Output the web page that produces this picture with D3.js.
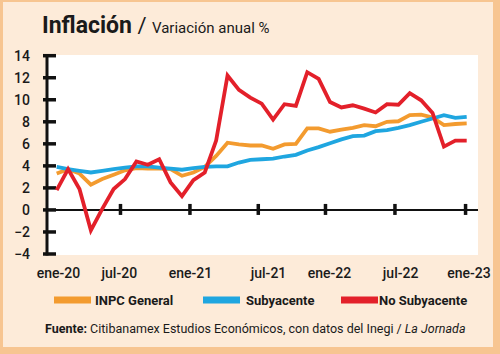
<!DOCTYPE html>
<html lang="es">
<head>
<meta charset="UTF-8">
<script src="https://cdn.jsdelivr.net/npm/d3@7"></script>
<title>Inflación</title>
<style>
    body { margin: 0; background: #f7c591; }
    svg { display: block; }
    text { font-family: Roboto, "Noto Sans", sans-serif; fill: #1a1a1a; }
</style>
</head>
<body>
<svg id="chart" width="500" height="354"></svg>
<script>
// monthly values, ene-20 .. ene-23 (37 months)
const inpc = [3.3, 3.7, 3.3, 2.3, 2.8, 3.2, 3.6, 3.8, 3.75, 3.75, 3.7, 3.1,
    3.4, 3.9, 4.9, 6.1, 5.95, 5.85, 5.85, 5.55, 5.95, 6.0, 7.4, 7.4,
    7.1, 7.3, 7.45, 7.7, 7.6, 8.0, 8.05, 8.6, 8.65, 8.4, 7.7, 7.8, 7.85];
const subyacente = [3.9, 3.7, 3.55, 3.4, 3.55, 3.7, 3.85, 3.95, 3.95, 3.85, 3.75, 3.65,
    3.8, 3.9, 3.95, 3.95, 4.3, 4.55, 4.6, 4.65, 4.85, 5.0, 5.4, 5.7,
    6.05, 6.4, 6.7, 6.75, 7.15, 7.25, 7.45, 7.7, 8.0, 8.3, 8.6, 8.35, 8.45];
const noSubyacente = [1.8, 3.7, 1.9, -1.85, 0.1, 1.9, 2.8, 4.4, 4.1, 4.6, 2.5, 1.25,
    2.7, 3.4, 6.3, 12.2, 10.9, 10.2, 9.65, 8.2, 9.6, 9.45, 12.5, 11.9,
    9.8, 9.3, 9.5, 9.2, 8.85, 9.6, 9.55, 10.6, 9.95, 8.8, 5.75, 6.3, 6.3];

const yTicks = [-4, -2, 0, 2, 4, 6, 8, 10, 12, 14];
// tick marks and labels sit between months, as in the original
const xTickMarks = [5.6, 11.7, 17.7, 23.6, 29.7, 35.9];
const xLabels = ["ene-20", "jul-20", "ene-21", "jul-21", "ene-22", "jul-22", "ene-23"];
const xLabelPos = [0.15, 5.5, 11.75, 18.6, 23.95, 30.2, 36.2];

const series = [
    { name: "INPC General", values: inpc, color: "#f39b2f" },
    { name: "Subyacente", values: subyacente, color: "#1fa6e0" },
    { name: "No Subyacente", values: noSubyacente, color: "#e3202a" }
];
const legendX = [54, 203, 341];

const svg = d3.select("#chart");

// frame
svg.append("rect").attr("x", 3).attr("y", 2).attr("width", 490).attr("height", 345)
    .attr("fill", "#fdebd9");
svg.append("rect").attr("x", 47).attr("y", 55).attr("width", 431).attr("height", 200)
    .attr("fill", "#ffffff");

// title
const title = svg.append("text").attr("x", 42).attr("y", 33);
title.append("tspan").text("Inflación").attr("font-size", 23).attr("font-weight", 700);
title.append("tspan").text(" / ").attr("font-size", 22).attr("font-weight", 400);
title.append("tspan").text("Variación anual %").attr("font-size", 15);

const x = d3.scaleLinear().domain([0, 36]).range([56.7, 466.7]);
const y = d3.scaleLinear().domain([-4, 14]).range([254, 55.7]);

// y axis
svg.append("line").attr("x1", 47).attr("x2", 47).attr("y1", y(14) - 1.5).attr("y2", y(-4) + 1.5)
    .attr("stroke", "#111").attr("stroke-width", 3);
svg.selectAll(".ytick").data(yTicks).join("line")
    .attr("x1", 43).attr("x2", 56)
    .attr("y1", d => y(d)).attr("y2", d => y(d))
    .attr("stroke", "#111").attr("stroke-width", 3.5);
svg.selectAll(".ylab").data(yTicks).join("text")
    .attr("x", 30).attr("y", d => y(d)).attr("dy", "0.36em")
    .attr("text-anchor", "end").attr("font-size", 14).attr("font-weight", 500)
    .text(d => d3.format("")(d));

// x axis at zero
svg.append("line").attr("x1", 43).attr("x2", 478).attr("y1", y(0)).attr("y2", y(0))
    .attr("stroke", "#111").attr("stroke-width", 2);
svg.selectAll(".xtick").data(xTickMarks).join("line")
    .attr("x1", d => x(d)).attr("x2", d => x(d))
    .attr("y1", y(0) - 6).attr("y2", y(0) + 5)
    .attr("stroke", "#111").attr("stroke-width", 3.5);
svg.selectAll(".xlab").data(xLabels).join("text")
    .attr("x", (d, i) => x(xLabelPos[i])).attr("y", 278)
    .attr("text-anchor", "middle").attr("font-size", 14).attr("font-weight", 500)
    .text(d => d);

// lines
const line = d3.line().x((d, i) => x(i)).y(d => y(d));
svg.selectAll(".series").data(series).join("path")
    .attr("d", d => line(d.values))
    .attr("fill", "none")
    .attr("stroke", d => d.color)
    .attr("stroke-width", 3.8)
    .attr("stroke-linejoin", "miter");

// legend
const lg = svg.selectAll(".legend").data(series).join("g")
    .attr("transform", (d, i) => `translate(${legendX[i]},300)`);
lg.append("rect").attr("x", 0).attr("y", -3.5).attr("width", 37).attr("height", 7)
    .attr("fill", d => d.color);
lg.append("text").attr("x", (d, i) => i === 2 ? 38 : i === 1 ? 43 : 41).attr("dy", "0.36em")
    .attr("font-size", 13).attr("font-weight", 700).text(d => d.name);

// source
const src = svg.append("text").attr("x", 45).attr("y", 333).attr("font-size", 12.5);
src.append("tspan").text("Fuente:").attr("font-weight", 700);
src.append("tspan").text(" Citibanamex Estudios Económicos, con datos del Inegi / ");
src.append("tspan").text("La Jornada").attr("font-style", "italic");
</script>
</body>
</html>
